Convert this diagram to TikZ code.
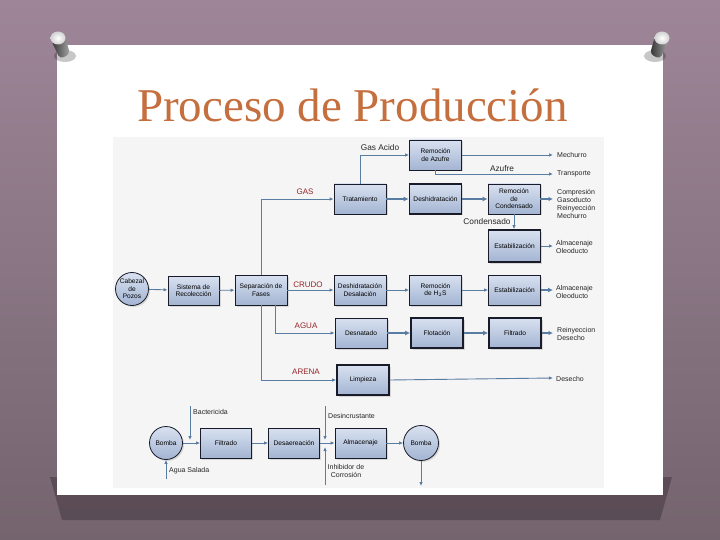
\documentclass[tikz,border=0pt]{standalone}
\usepackage{fontspec}
\setmainfont{Liberation Serif}
\newfontfamily\diag{Liberation Sans}
\usetikzlibrary{arrows.meta,shadows}
\definecolor{bgtop}{RGB}{158,134,152}
\definecolor{bgbot}{RGB}{116,100,110}
\definecolor{titlec}{RGB}{197,110,62}
\definecolor{boxtop}{RGB}{216,225,240}
\definecolor{boxbot}{RGB}{163,180,210}
\definecolor{boxline}{RGB}{25,28,40}
\definecolor{flowc}{RGB}{88,124,162}
\definecolor{catred}{RGB}{150,35,40}
\definecolor{shadowc}{RGB}{88,74,84}
\tikzset{
 box/.style={draw=boxline, line width=0.8pt, top color=boxtop, bottom color=boxbot,
   minimum width=52pt, minimum height=30pt, inner sep=1pt, align=center,
   font=\diag\fontsize{6.6}{7.6}\selectfont,
   drop shadow={shadow xshift=1.5pt, shadow yshift=-1.5pt, opacity=0.25}},
 tbox/.style={box, line width=1.7pt},
 circ/.style={circle, draw=boxline, line width=0.8pt, top color=boxtop, bottom color=boxbot,
   minimum size=33pt, inner sep=0pt, align=center, font=\diag\fontsize{6.6}{7.4}\selectfont,
   drop shadow={shadow xshift=1.5pt, shadow yshift=-1.5pt, opacity=0.25}},
 flow/.style={draw=flowc, line width=0.9pt, -{Latex[length=4pt,width=3.5pt]}},
 mflow/.style={flow, line width=1.4pt, -{Latex[length=4.5pt,width=4.5pt]}},
 tflow/.style={flow, line width=2pt, -{Latex[length=5pt,width=5pt]}},
 cat/.style={text=catred, font=\diag\fontsize{8}{9}\selectfont, inner sep=0pt},
 lab/.style={text=black!85, font=\diag\fontsize{8.3}{9}\selectfont, inner sep=0pt},
 outl/.style={text=black!85, font=\diag\fontsize{7}{8}\selectfont, align=left, anchor=west, inner sep=0pt},
 slab/.style={text=black!85, font=\diag\fontsize{7}{8}\selectfont, inner sep=0pt},
}
\begin{document}
\begin{tikzpicture}[x=1pt,y=-1pt]
\useasboundingbox (0,0) rectangle (720,540);
% background
\shade[top color=bgtop, bottom color=bgbot] (0,0) rectangle (720,540);
% card shadow
\fill[shadowc, opacity=0.9] (50,477) -- (672,477) -- (660,520) -- (62,520) -- cycle;
% card
\fill[white] (57,45) rectangle (663,495);
% diagram area
\fill[black!4] (113,137) rectangle (604,488);
% pins
\fill[black, opacity=0.22] (65,56) ellipse (11 and 6);
\shade[left color=black!80, right color=black!35, rounded corners=4pt] (51,40) -- (65,36) -- (70,54) -- (60,59) -- cycle;
\shade[inner color=white, outer color=black!18] (58,38) ellipse (7.5 and 6.5);
\fill[black, opacity=0.22] (655,56) ellipse (11 and 6);
\shade[left color=black!80, right color=black!35, rounded corners=4pt] (669,40) -- (655,36) -- (650,54) -- (660,59) -- cycle;
\shade[inner color=white, outer color=black!18] (662,38) ellipse (7.5 and 6.5);
% title
\node[anchor=base, text=titlec, font=\fontsize{47}{50}\selectfont, inner sep=0pt] (title) at (352.5,122) {Proceso de Producción};

% nodes
\node[circ] (cab) at (132,289) {Cabezal\\de\\Pozos};
\node[box, minimum width=51pt, minimum height=29pt] (sis) at (193.5,290.5) {Sistema de\\Recolección};
\node[box] (sep) at (261,290) {Separación de\\Fases};
\node[box] (trat) at (360,199) {Tratamiento};
\node[box] (razu) at (435.5,155) {Remoción\\de Azufre};
\node[tbox] (desh) at (435.5,199) {Deshidratación};
\node[box] (rcond) at (514,199) {Remoción\\de\\Condensado};
\node[tbox, minimum height=32pt] (estg) at (514.5,246) {Estabilización};
\node[box] (dd) at (360,290) {Deshidratación\\Desalación};
\node[box] (rh2s) at (435.5,290) {Remoción\\de H$_2$S};
\node[box] (estc) at (514.5,290) {Estabilización};
\node[box] (desn) at (361,333) {Desnatado};
\node[tbox] (flot) at (437,333) {Flotación};
\node[tbox] (filt) at (515,333) {Filtrado};
\node[tbox] (limp) at (363,380) {Limpieza};

\node[circ] (b1) at (166,443) {Bomba};
\node[box, minimum width=51pt] (filtb) at (226,443) {Filtrado};
\node[box, minimum width=51pt] (desa) at (294,443) {Desaereación};
\node[box, minimum width=51pt] (alm) at (360.5,443) {Almacenaje};
\node[circ, minimum size=35pt] (b2) at (421,443) {Bomba};

% output end points
\coordinate (oMech) at (553,155);
\coordinate (oTrans) at (553,174);
\coordinate (oComp) at (553,199);
\coordinate (oAlm1) at (553,246);
\coordinate (oAlm2) at (553,290);
\coordinate (oRei) at (553,333);
\coordinate (oDes) at (553,378);
\coordinate (bacT) at (190,406);
\coordinate (bacB) at (190,440);
\coordinate (aguaB) at (166,479);
\coordinate (desT) at (325,406);
\coordinate (desB) at (325,440);
\coordinate (inhB) at (325,485);
\coordinate (inhT) at (325,447);
\coordinate (b2out) at (421,486);

% connectors
\draw[flow] (cab) -- (sis);
\draw[flow] (sis) -- (sep);
\draw[flow] (sep.north) |- (trat.west);
\draw[flow] (sep.east) -- (dd.west);
\draw[flow] ([xshift=14pt]sep.south) |- (desn.west);
\draw[flow] (sep.south) |- (limp.west);
\draw[flow] (trat.north) |- (razu.west);
\draw[tflow] (trat) -- (desh);
\draw[tflow] (desh) -- (rcond);
\draw[flow] (razu.east) -- (oMech);
\draw[flow] (razu.south) |- (oTrans);
\draw[mflow] (rcond.east) -- (oComp);
\draw[flow] (rcond.south) -- (rcond.south |- estg.north);
\draw[flow] (estg.east) -- (oAlm1);
\draw[flow] (dd) -- (rh2s);
\draw[flow] (rh2s) -- (estc);
\draw[tflow] (estc.east) -- (oAlm2);
\draw[tflow] (desn) -- (flot);
\draw[tflow] (flot) -- (filt);
\draw[mflow] (filt.east) -- (oRei);
\draw[flow] (limp.east) -- (oDes);

\draw[flow] (bacT) -- (bacB);
\draw[flow] (b1) -- (filtb);
\draw[flow] (filtb) -- (desa);
\draw[flow] (desa) -- (alm);
\draw[flow] (alm) -- (b2);
\draw[flow] (b2.south) -- (b2out);
\draw[flow] (aguaB) -- (b1.south);
\draw[flow] (desT) -- (desB);
\draw[flow] (inhB) -- (inhT);

% labels
\node[lab] (lGas) at (380,148) {Gas Acido};
\node[lab] (lAzu) at (502,169) {Azufre};
\node[lab] (lCond) at (487,222) {Condensado};
\node[cat] (cGas) at (305,192) {GAS};
\node[cat] (cCru) at (308,285) {CRUDO};
\node[cat] (cAgu) at (306,326) {AGUA};
\node[cat] (cAre) at (306,372) {ARENA};

\node[outl] (tMech) at (557,155) {Mechurro};
\node[outl] (tTrans) at (557,174) {Transporte};
\node[outl] (tComp) at (557,204) {Compresión\\Gasoducto\\Reinyección\\Mechurro};
\node[outl] (tAlm1) at (556,247) {Almacenaje\\Oleoducto};
\node[outl] (tAlm2) at (556,292) {Almacenaje\\Oleoducto};
\node[outl] (tRei) at (557,334) {Reinyeccion\\Desecho};
\node[outl] (tDes) at (556,379) {Desecho};

\node[slab, anchor=west] (tBac) at (193,412) {Bactericida};
\node[slab, anchor=west] (tAgua) at (169,471) {Agua Salada};
\node[slab, anchor=west] (tDesi) at (328,416) {Desincrustante};
\node[slab, align=center] (tInh) at (346,471) {Inhibidor de\\Corrosión};
\end{tikzpicture}
\end{document}
